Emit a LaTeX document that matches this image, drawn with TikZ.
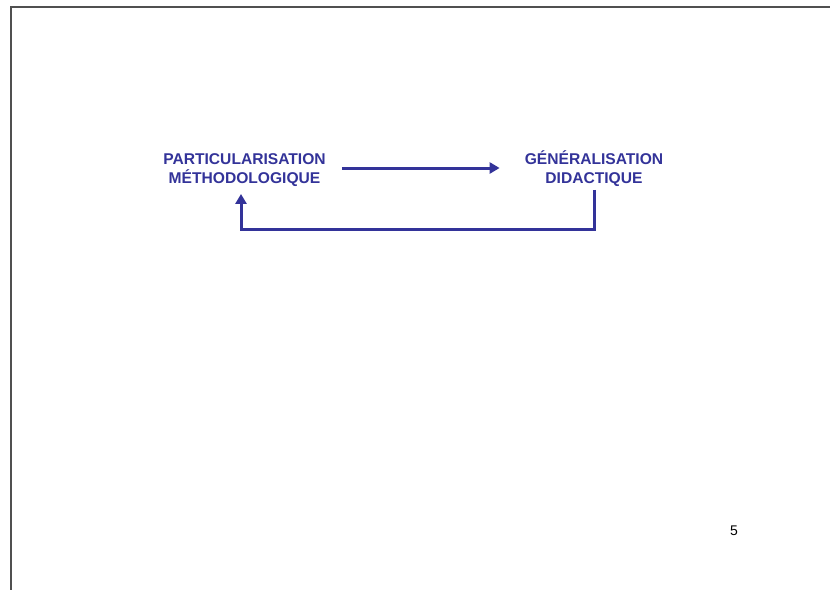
\documentclass[tikz,border=0pt]{standalone}
\usepackage{fontspec}
\setmainfont{Liberation Sans}
\usetikzlibrary{calc}
\usetikzlibrary{arrows.meta}
\usepackage{xcolor}
\definecolor{slideblue}{RGB}{51,51,153}
\definecolor{framegray}{RGB}{80,80,80}

\begin{document}
\begin{tikzpicture}[x=1pt, y=-1pt,
  etape/.style={slideblue, font=\fontsize{15.6}{19.5}\selectfont\bfseries, align=center, inner sep=0},
  fleche/.style={slideblue, line width=3pt, -{Triangle[length=10pt,width=11pt]}}]
\useasboundingbox (0,0) rectangle (830,590);
\draw[framegray, line width=2.5pt] (830,7)--(11,7)--(11,590);
\node[etape] (part) at (244.5,170) {PARTICULARISATION\\MÉTHODOLOGIQUE};
\node[etape] (gene) at (594,168.5) {GÉNÉRALISATION\\DIDACTIQUE};
\draw[fleche, shorten <=16pt, shorten >=25pt] (part.east |- 0,168) -- (gene.west |- 0,168);
\coordinate (bas) at (0,229);
\coordinate (coin) at ($(part.south)+(-3.5,0)$);
\draw[fleche, shorten <=3pt, shorten >=7pt] (gene.south) -- (gene.south |- bas) -| (coin);
\node[font=\fontsize{14}{16}\selectfont] (page) at (734,531) {5};
\end{tikzpicture}
\end{document}
